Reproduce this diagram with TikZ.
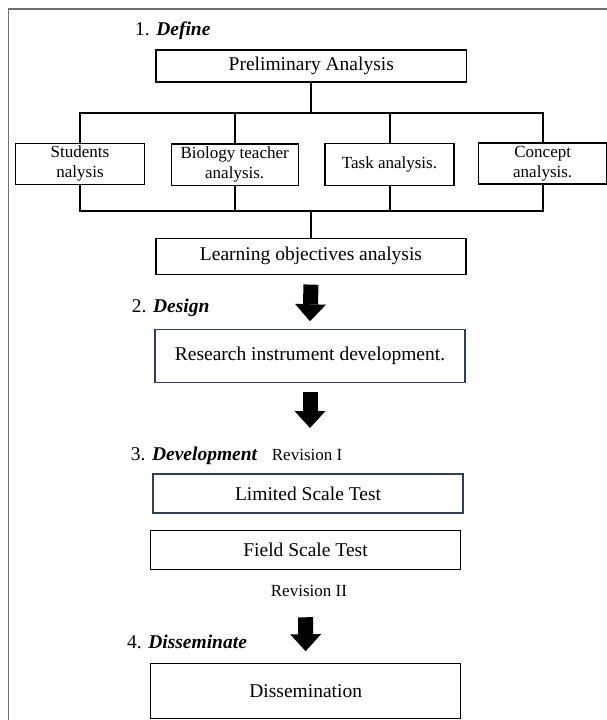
\documentclass[tikz,border=0pt]{standalone}
\usepackage{fontspec}
\setmainfont{Liberation Serif}
\usetikzlibrary{arrows.meta}
\definecolor{navyedge}{RGB}{47,62,92}
\definecolor{framegray}{RGB}{110,110,110}

\begin{document}
\begin{tikzpicture}[x=1pt,y=-1pt,
    stagebox/.style={draw,line width=1.1pt,inner sep=0pt,align=center,font=\fontsize{19.5}{22}\selectfont},
    subbox/.style={draw,line width=1.1pt,inner sep=0pt,align=center,font=\fontsize{17}{20}\selectfont},
    treeline/.style={line width=2pt},
    fatarrow/.style={line width=15pt,-{Triangle[length=17pt,width=31pt,line width=0pt]}},
    steplabel/.style={anchor=base west,inner sep=0pt,font=\fontsize{19.5}{22}\selectfont},
    revlabel/.style={anchor=base west,inner sep=0pt,font=\fontsize{17}{20}\selectfont}]
    \useasboundingbox (0,0) rectangle (607,720);
    \draw[framegray,line width=1.3pt] (8.7,720) -- (8.7,9) -- (607,9);

    \node[steplabel] (define) at (135,35.7) {1. \textbf{\textit{Define}}};
    \node[stagebox,minimum width=310.7pt,minimum height=32pt] (prelim) at (311.3,66) {Preliminary Analysis};
    \node[subbox,minimum width=128.6pt,minimum height=40.7pt] (students) at (80,163.7) {Students\\nalysis};
    \node[subbox,minimum width=127.3pt,minimum height=41.7pt] (biology) at (234.7,164.8) {Biology teacher\\analysis.};
    \node[subbox,minimum width=129pt,minimum height=41.7pt] (task) at (389.5,164.2) {Task analysis.};
    \node[subbox,minimum width=128pt,minimum height=41pt] (concept) at (542.7,163.5) {Concept\\analysis.};
    \node[stagebox,minimum width=310pt,minimum height=35.7pt] (learning) at (311,256.2) {Learning objectives analysis};

    \node[steplabel] (design) at (131.7,312.5) {2. \textbf{\textit{Design}}};
    \node[stagebox,draw=navyedge,minimum width=310pt,minimum height=53.4pt] (research) at (310,356) {Research instrument development.};

    \node[steplabel] (develop) at (130.7,460.7) {3. \textbf{\textit{Development}}};
    \node[revlabel] (rev1) at (271.7,460.7) {Revision I};
    \node[stagebox,draw=navyedge,minimum width=310pt,minimum height=39pt] (limited) at (308,493.5) {Limited Scale Test};
    \node[stagebox,minimum width=310.5pt,minimum height=38.6pt] (field) at (305.5,550) {Field Scale Test};
    \node[revlabel] (rev2) at (270.7,596.7) {Revision II};

    \node[steplabel] (dissemlabel) at (127,648.3) {4. \textbf{\textit{Disseminate}}};
    \node[stagebox,minimum width=310pt,minimum height=54.7pt] (dissem) at (305.7,690.7) {Dissemination};

    % tree of the define stage
    \coordinate (split) at (311.3,112.7);
    \draw[treeline] (prelim.south) -- (split);
    \draw[treeline] (students.north) |- (split) -| (concept.north);
    \draw[treeline] (biology.north) -- (biology.north |- split);
    \draw[treeline] (task.north) -- (task.north |- split);
    \coordinate (join) at (311,210.5);
    \draw[treeline] (students.south) |- (join) -| (concept.south);
    \draw[treeline] (biology.south) -- (biology.south |- join);
    \draw[treeline] (task.south) -- (task.south |- join);
    \draw[treeline] (join) -- (learning.north);

    % block arrows
    \coordinate (devtip) at (307,428);
    \draw[fatarrow] ([yshift=-10pt]learning.south) -- ([yshift=7.5pt]research.north);
    \draw[fatarrow] ([yshift=-9pt]research.south) -- (research.south |- devtip);
    \draw[fatarrow] ([yshift=-47.4pt]field.south) -- ([yshift=11.6pt]dissem.north);
\end{tikzpicture}
\end{document}
